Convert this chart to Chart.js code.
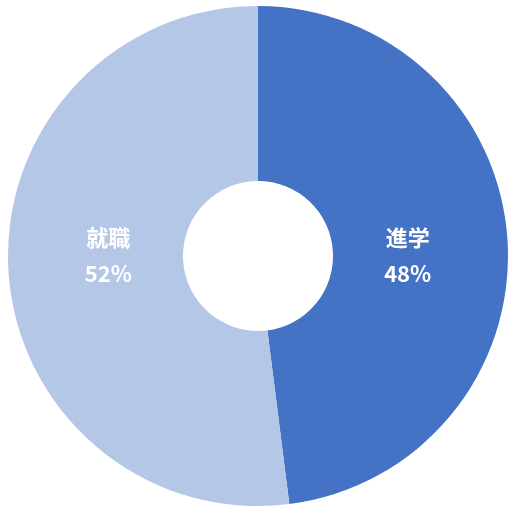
<!DOCTYPE html>
<html>
<head>
<meta charset="utf-8">
<script src="https://cdn.jsdelivr.net/npm/chart.js@4"></script>
<style>
  html, body { margin: 0; padding: 0; background: #fff; }
  #wrap { width: 511px; height: 511px; }
</style>
</head>
<body>
<div id="wrap"><canvas id="pieChart"></canvas></div>
<script>
// DATA
let labels = ["進学", "就職"];
let values = [48, 52];
let colors = ["#4472C4", "#B4C7E7"];

// labels inside slices: name on first line, percent on second
const sliceLabels = {
    id: "sliceLabels",
    afterDatasetsDraw(chart) {
        let ctx = chart.ctx;
        let meta = chart.getDatasetMeta(0);
        let total = values.reduce((a, b) => a + b, 0);
        ctx.save();
        ctx.fillStyle = "#ffffff";
        ctx.font = "bold 22px 'Noto Sans CJK JP', sans-serif";
        ctx.textAlign = "center";
        ctx.textBaseline = "middle";
        meta.data.forEach((arc, i) => {
            let p = arc.getProps(["x", "y", "startAngle", "endAngle", "outerRadius"], true);
            let mid = (p.startAngle + p.endAngle) / 2;
            let r = p.outerRadius * 0.6;
            let x = p.x + Math.cos(mid) * r;
            let y = p.y;
            let pct = Math.round(values[i] / total * 100) + "%";
            ctx.fillText(labels[i], x, y - 18);
            ctx.fillText(pct, x, y + 18);
        });
        ctx.restore();
    }
};

let ctx1 = document.getElementById("pieChart");

new Chart(ctx1, {
    type: "doughnut",
    data: {
        labels: labels,
        datasets: [{
            data: values,
            backgroundColor: colors,
            borderWidth: 0
        }]
    },
    options: {
        responsive: true,
        maintainAspectRatio: false,
        animation: false,
        cutout: "30%",
        layout: { padding: { top: 6, bottom: 5, left: 8, right: 3 } },
        plugins: {
            legend: { display: false },
            tooltip: { enabled: false }
        }
    },
    plugins: [sliceLabels]
});
</script>
</body>
</html>
